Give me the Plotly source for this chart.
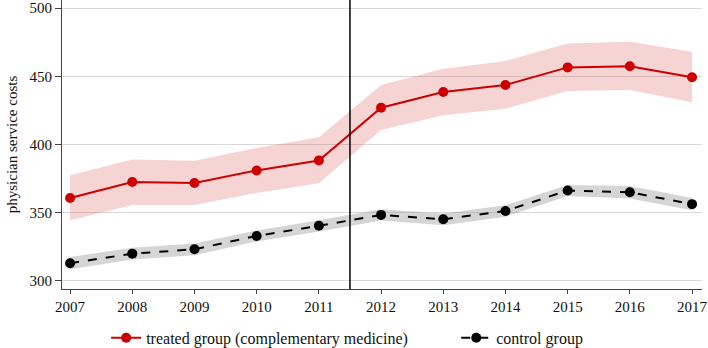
import plotly.graph_objects as go

years = [2007, 2008, 2009, 2010, 2011, 2012, 2013, 2014, 2015, 2016, 2017]
treated = [360.8, 372.5, 371.8, 381.0, 388.3, 427.0, 438.5, 443.6, 456.5, 457.4, 449.3]
treated_hi = [377.5, 389.0, 388.0, 397.5, 405.3, 443.6, 455.6, 461.2, 474.1, 475.3, 468.0]
treated_lo = [344.4, 355.7, 355.7, 364.5, 371.6, 410.6, 421.5, 426.2, 439.2, 440.0, 430.9]
control = [313.0, 320.0, 323.2, 333.0, 340.4, 348.4, 345.2, 351.3, 366.3, 365.0, 356.3]
control_hi = [317.5, 324.3, 327.5, 337.0, 344.5, 352.5, 349.5, 355.5, 370.3, 369.5, 360.8]
control_lo = [308.5, 315.7, 318.9, 329.0, 336.3, 344.3, 340.9, 347.1, 362.3, 360.5, 351.8]
y_ticks = [300, 350, 400, 450, 500]

fig = go.Figure()
fig.add_trace(go.Scatter(x=years + years[::-1], y=treated_hi + treated_lo[::-1],
                         fill="toself", fillcolor="rgba(220,60,60,0.22)", line=dict(width=0),
                         hoverinfo="skip", showlegend=False))
fig.add_trace(go.Scatter(x=years + years[::-1], y=control_hi + control_lo[::-1],
                         fill="toself", fillcolor="rgba(150,150,150,0.40)", line=dict(width=0),
                         hoverinfo="skip", showlegend=False))
fig.add_trace(go.Scatter(x=years, y=treated, mode="lines+markers",
                         name="treated group (complementary medicine)",
                         line=dict(color="#cc0000", width=2),
                         marker=dict(color="#cc0000", size=10), legend="legend"))
fig.add_trace(go.Scatter(x=years, y=control, mode="lines+markers",
                         name="control group",
                         line=dict(color="black", width=2, dash="dash"),
                         marker=dict(color="black", size=10), legend="legend2"))

fig.add_shape(type="line", xref="x", yref="paper", x0=2011.5, x1=2011.5, y0=0, y1=1,
              line=dict(color="black", width=1.5))

serif = "Liberation Serif"
leg_font = dict(family=serif, size=16, color="#111")
fig.update_layout(
    width=708, height=348,
    margin=dict(l=62, r=6, t=0, b=59, autoexpand=False),
    paper_bgcolor="white", plot_bgcolor="white",
    font=dict(family=serif, size=15, color="#111"),
    showlegend=True,
    legend=dict(orientation="h", x=0.069, xanchor="left", y=-0.11, yanchor="top",
                font=leg_font),
    legend2=dict(orientation="h", x=0.616, xanchor="left", y=-0.11, yanchor="top",
                 font=leg_font),
    xaxis=dict(range=[2006.87, 2017.16], tickmode="array", tickvals=years,
               ticktext=[str(y) for y in years], showgrid=False, zeroline=False,
               showline=True, linecolor="#444", linewidth=1.2, automargin=False,
               ticks="outside", ticklen=4, tickcolor="#444"),
    yaxis=dict(range=[294.1, 505.9], tickmode="array", tickvals=y_ticks,
               showgrid=True, gridcolor="#d9d9d9", gridwidth=1, zeroline=False,
               showline=True, linecolor="#444", linewidth=1.2, automargin=False,
               ticks="outside", ticklen=6, tickcolor="#444",
               title=dict(text="physician service costs", font=dict(size=15), standoff=8)),
)
fig.write_html("out.html", config={"displayModeBar": False},
               post_script="document.body.style.margin='0';")
